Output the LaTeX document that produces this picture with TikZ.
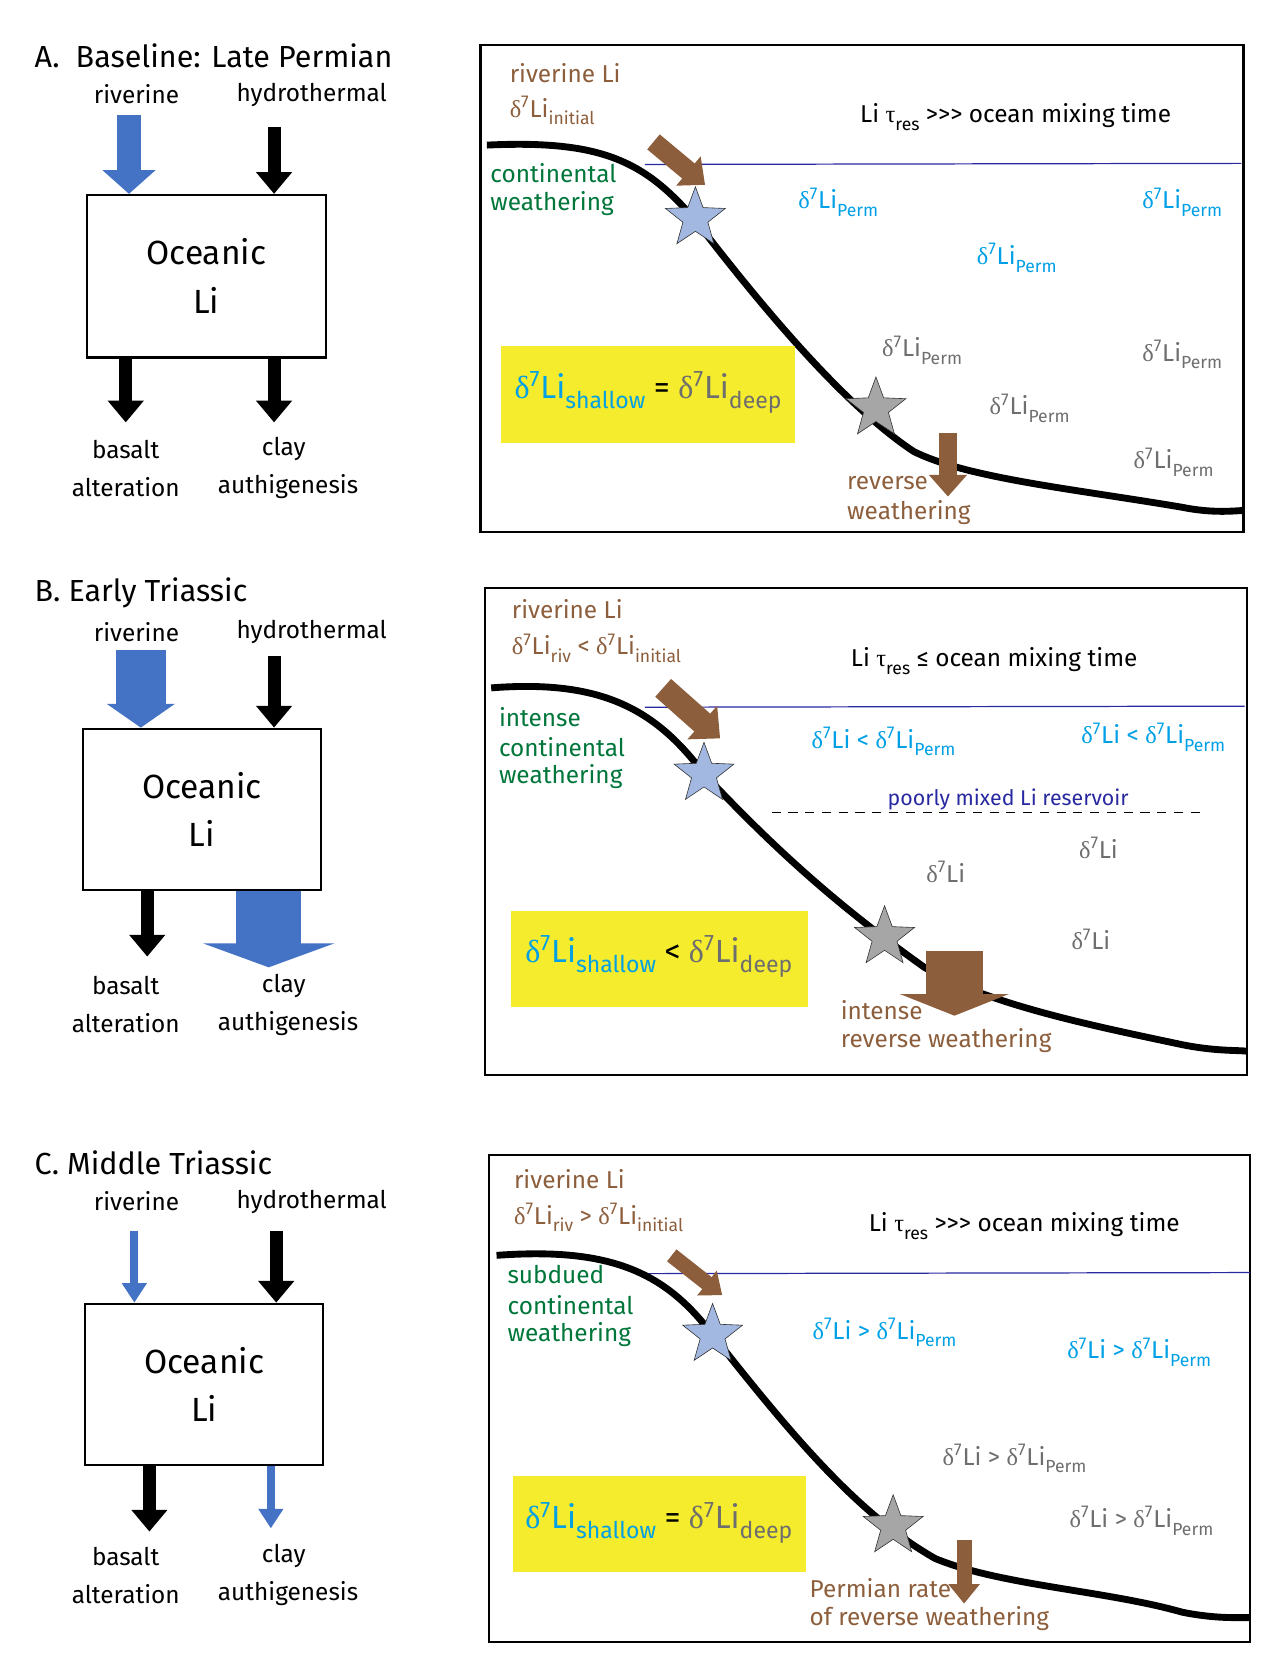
\documentclass[tikz,border=0pt]{standalone}
\usepackage{fontspec}
\setmainfont{Fira Sans}
\newfontfamily\grk{Liberation Serif}
\usetikzlibrary{shapes.geometric,arrows.meta}
\definecolor{riv}{RGB}{68,114,196}
\definecolor{brn}{RGB}{140,94,60}
\definecolor{grn}{RGB}{0,118,58}
\definecolor{cyn}{RGB}{0,160,230}
\definecolor{gry}{RGB}{110,110,110}
\definecolor{ylw}{RGB}{244,236,44}
\definecolor{nvy}{RGB}{40,40,160}
\newcommand{\dLi}{{\grk δ}\textsuperscript{7}Li}
\newcommand{\sub}[1]{\raisebox{-0.6ex}{\scalebox{0.72}{#1}}}
\newcommand{\ggg}{>{}>{}>}
\tikzset{
  txt/.style={font=\fontsize{16}{28}\selectfont, align=center, inner sep=0pt},
  ltxt/.style={txt, anchor=west, align=left},
  ttl/.style={font=\fontsize{20}{24}\selectfont, anchor=west, inner sep=0pt},
  res/.style={draw, line width=1.4pt},
  flux/.style={line width=#1, -{Triangle[length=0.55cm, width=1.05cm]}},
  seafloor/.style={line width=4.5pt, black},
  marker/.style={star, star points=5, star point ratio=2.4, minimum size=1.45cm, draw=black!80, inner sep=0pt},
  shelf/.style={nvy, line width=0.8pt}
}
\begin{document}
\begin{tikzpicture}[x=0.0248cm, y=-0.0248cm]
\useasboundingbox (0,0) rectangle (1190,1551);

% ---------------- Panel A ----------------
\node[ttl] (tA) at (32,52) {A.~~Baseline: Late Permian};
\node[txt] (rivA) at (127,88) {riverine};
\node[txt] (hydA) at (290,88) {hydrothermal};
\node[res, minimum width=5.5cm, minimum height=3.75cm] (boxA) at (192,257) {};
\node[txt, font=\fontsize{22}{32}\selectfont] at (boxA) {Oceanic\\Li};
\coordinate (a1) at (120,107); \coordinate (a2) at (255,118);
\coordinate (a3) at (117,393); \coordinate (a4) at (255,393);
\draw[flux=0.55cm, riv, -{Triangle[length=0.55cm, width=1.2cm]}] (a1) -- (boxA.north -| a1);
\draw[flux=0.3cm, -{Triangle[length=0.5cm, width=0.8cm]}] (a2) -- (boxA.north -| a2);
\draw[flux=0.3cm, -{Triangle[length=0.5cm, width=0.8cm]}] (boxA.south -| a3) -- (a3);
\draw[flux=0.3cm, -{Triangle[length=0.5cm, width=0.8cm]}] (boxA.south -| a4) -- (a4);
\node[txt] at (117,418) {basalt};
\node[txt] at (117,453) {alteration};
\node[txt] at (264,418) {clay};
\node[txt] at (268,453) {authigenesis};

\draw[line width=1.4pt] (447,42) rectangle (1157,495);
\node[ltxt, brn] at (474,68) {riverine Li};
\node[ltxt, brn] at (474,103) {\dLi\sub{initial}};
\node[txt] at (945,109) {Li {\grk τ}\sub{res} \ggg{} ocean mixing time};
\draw[shelf] (600,153) -- (1155,152);
\draw[seafloor] (453,135) .. controls (560,130) and (600,150) .. (647,205)
  .. controls (720,300) and (790,380) .. (850,420)
  .. controls (900,445) and (1000,455) .. (1100,472) .. controls (1130,478) and (1150,475) .. (1157,475);
\draw[line width=0.45cm, brn, -{Triangle[length=0.5cm, width=0.85cm]}] (608,132) -- (656,172);
\node[marker, fill=riv!50] (sA1) at (647,203) {};
\node[marker, fill=gray!70] (sA2) at (815,380) {};
\draw[line width=0.4cm, brn, -{Triangle[length=0.5cm, width=0.85cm]}] (882,403) -- (882,462);
\node[ltxt, grn] at (456,161) {continental};
\node[ltxt, grn] at (456,189) {weathering};
\node[txt, cyn] at (780,188) {\dLi\sub{Perm}};
\node[txt, cyn] at (1100,188) {\dLi\sub{Perm}};
\node[txt, cyn] at (946,240) {\dLi\sub{Perm}};
\node[txt, gry] at (858,326) {\dLi\sub{Perm}};
\node[txt, gry] at (1100,330) {\dLi\sub{Perm}};
\node[txt, gry] at (958,380) {\dLi\sub{Perm}};
\node[txt, gry] at (1092,430) {\dLi\sub{Perm}};
\fill[ylw] (466,322) rectangle (740,412);
\node[txt, font=\fontsize{21}{24}\selectfont] at (603,365) {\textcolor{cyn}{\dLi\sub{shallow}} = \textcolor{gry}{\dLi\sub{deep}}};
\node[ltxt, brn] at (788,449) {reverse};
\node[ltxt, brn] at (788,477) {weathering};

% ---------------- Panel B ----------------
\node[ttl] (tB) at (32,552) {B. Early Triassic};
\node[txt] (rivB) at (127,588) {riverine};
\node[txt] (hydB) at (290,588) {hydrothermal};
\node[res, minimum width=5.5cm, minimum height=3.72cm] (boxB) at (188,753) {};
\node[txt, font=\fontsize{22}{32}\selectfont] at (boxB) {Oceanic\\Li};
\coordinate (b1) at (131,605); \coordinate (b2) at (255,610);
\coordinate (b3) at (137,890); \coordinate (b4) at (250,900);
\draw[line width=1.15cm, riv, -{Triangle[length=0.55cm, width=1.55cm]}] (b1) -- (boxB.north -| b1);
\draw[flux=0.3cm, -{Triangle[length=0.5cm, width=0.8cm]}] (b2) -- (boxB.north -| b2);
\draw[flux=0.3cm, -{Triangle[length=0.5cm, width=0.8cm]}] (boxB.south -| b3) -- (b3);
\draw[line width=1.5cm, riv, -{Triangle[length=0.55cm, width=3cm]}] (boxB.south -| b4) -- (b4);
\node[txt] at (117,917) {basalt};
\node[txt] at (117,952) {alteration};
\node[txt] at (264,917) {clay};
\node[txt] at (268,952) {authigenesis};

\draw[line width=1.4pt] (451,547) rectangle (1160,1000);
\node[ltxt, brn] at (476,567) {riverine Li};
\node[ltxt, brn] at (476,603) {\dLi\sub{riv} < \dLi\sub{initial}};
\node[txt] at (925,615) {Li {\grk τ}\sub{res} ≤ ocean mixing time};
\draw[shelf] (600,658) -- (1158,657);
\draw[seafloor] (457,640) .. controls (560,632) and (610,660) .. (655,720)
  .. controls (730,800) and (790,850) .. (860,900)
  .. controls (920,935) and (1020,955) .. (1100,972) .. controls (1130,978) and (1150,977) .. (1160,978);
\draw[line width=0.55cm, brn, -{Triangle[length=0.55cm, width=1cm]}] (617,640) -- (670,687);
\node[marker, fill=riv!50] (sB1) at (655,720) {};
\node[marker, fill=gray!70] (sB2) at (823,872) {};
\draw[line width=1.3cm, brn, -{Triangle[length=0.5cm, width=2.5cm]}] (888,885) -- (888,945);
\node[ltxt, grn] at (464,667) {intense};
\node[ltxt, grn] at (464,695) {continental};
\node[ltxt, grn] at (464,723) {weathering};
\node[txt, cyn] at (822,690) {\dLi{} < \dLi\sub{Perm}};
\node[txt, cyn] at (1073,686) {\dLi{} < \dLi\sub{Perm}};
\coordinate (dl) at (718,756); \coordinate (dr) at (1120,756);
\draw[dashed, line width=0.8pt, dash pattern=on 6pt off 5pt] (dl) -- (dr);
\node[txt, nvy, font=\fontsize{14}{16}\selectfont] at (938,744) {poorly mixed Li reservoir};
\node[txt, gry] at (880,811) {\dLi};
\node[txt, gry] at (1022,789) {\dLi};
\node[txt, gry] at (1015,874) {\dLi};
\fill[ylw] (475,848) rectangle (752,937);
\node[txt, font=\fontsize{21}{24}\selectfont] at (613,890) {\textcolor{cyn}{\dLi\sub{shallow}} < \textcolor{gry}{\dLi\sub{deep}}};
\node[ltxt, brn] at (782,940) {intense};
\node[ltxt, brn] at (782,968) {reverse weathering};

% ---------------- Panel C ----------------
\node[ttl] (tC) at (32,1082) {C. Middle Triassic};
\node[txt] (rivC) at (127,1118) {riverine};
\node[txt] (hydC) at (290,1118) {hydrothermal};
\node[res, minimum width=5.5cm, minimum height=3.72cm] (boxC) at (190,1288) {};
\node[txt, font=\fontsize{22}{32}\selectfont] at (boxC) {Oceanic\\Li};
\coordinate (c1) at (125,1145); \coordinate (c2) at (257,1145);
\coordinate (c3) at (139,1425); \coordinate (c4) at (252,1422);
\draw[line width=0.18cm, riv, -{Triangle[length=0.45cm, width=0.55cm]}] (c1) -- (boxC.north -| c1);
\draw[flux=0.3cm, -{Triangle[length=0.5cm, width=0.8cm]}] (c2) -- (boxC.north -| c2);
\draw[flux=0.3cm, -{Triangle[length=0.5cm, width=0.8cm]}] (boxC.south -| c3) -- (c3);
\draw[line width=0.18cm, riv, -{Triangle[length=0.45cm, width=0.55cm]}] (boxC.south -| c4) -- (c4);
\node[txt] at (117,1448) {basalt};
\node[txt] at (117,1483) {alteration};
\node[txt] at (264,1448) {clay};
\node[txt] at (268,1483) {authigenesis};

\draw[line width=1.4pt] (455,1075) rectangle (1163,1528);
\node[ltxt, brn] at (478,1097) {riverine Li};
\node[ltxt, brn] at (478,1133) {\dLi\sub{riv} > \dLi\sub{initial}};
\node[txt] at (953,1141) {Li {\grk τ}\sub{res} \ggg{} ocean mixing time};
\draw[shelf] (600,1185) -- (1163,1184);
\draw[seafloor] (462,1168) .. controls (570,1160) and (620,1185) .. (663,1242)
  .. controls (740,1340) and (800,1410) .. (870,1450)
  .. controls (930,1475) and (1030,1480) .. (1100,1500) .. controls (1130,1506) and (1150,1505) .. (1163,1505);
\draw[line width=0.35cm, brn, -{Triangle[length=0.45cm, width=0.7cm]}] (625,1168) -- (672,1205);
\node[marker, fill=riv!50] (sC1) at (663,1242) {};
\node[marker, fill=gray!70] (sC2) at (831,1420) {};
\draw[line width=0.35cm, brn, -{Triangle[length=0.45cm, width=0.7cm]}] (897,1433) -- (897,1492);
\node[ltxt, grn] at (472,1186) {subdued};
\node[ltxt, grn] at (472,1214) {continental};
\node[ltxt, grn] at (472,1242) {weathering};
\node[txt, cyn] at (823,1240) {\dLi{} > \dLi\sub{Perm}};
\node[txt, cyn] at (1060,1258) {\dLi{} > \dLi\sub{Perm}};
\node[txt, gry] at (944,1357) {\dLi{} > \dLi\sub{Perm}};
\node[txt, gry] at (1062,1415) {\dLi{} > \dLi\sub{Perm}};
\fill[ylw] (477,1373) rectangle (750,1463);
\node[txt, font=\fontsize{21}{24}\selectfont] at (613,1417) {\textcolor{cyn}{\dLi\sub{shallow}} = \textcolor{gry}{\dLi\sub{deep}}};
\node[ltxt, brn] at (753,1478) {Permian rate};
\node[ltxt, brn] at (753,1506) {of reverse weathering};
\end{tikzpicture}
\end{document}
